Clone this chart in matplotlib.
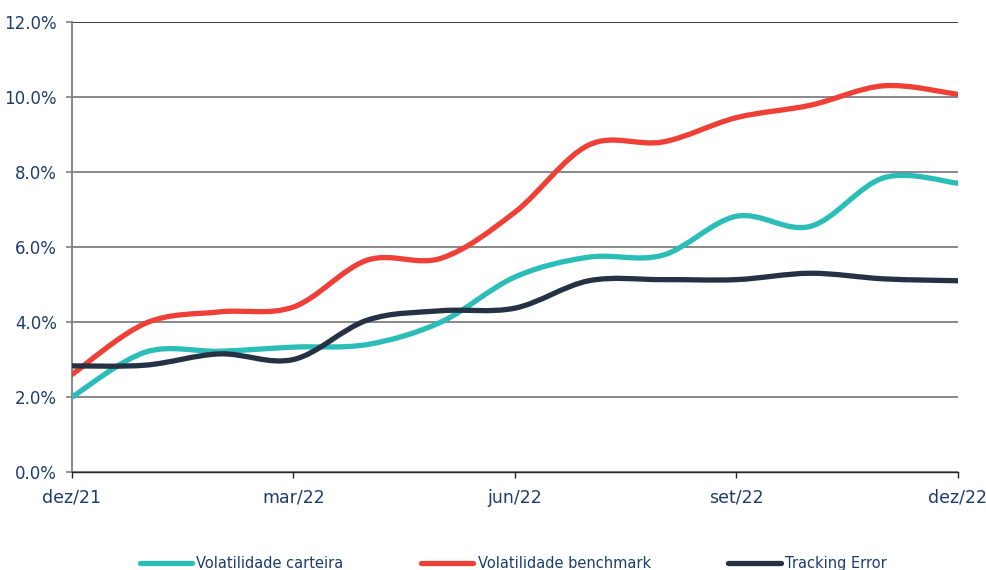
import numpy as np
import matplotlib
matplotlib.use("Agg")
import matplotlib.pyplot as plt
from matplotlib.path import Path
from matplotlib.patches import PathPatch
from matplotlib.lines import Line2D

# monthly values dez/21 .. dez/22 (in %)
months = ["dez/21", "jan/22", "fev/22", "mar/22", "abr/22", "mai/22", "jun/22",
          "jul/22", "ago/22", "set/22", "out/22", "nov/22", "dez/22"]
vol_carteira = [2.0, 3.2, 3.22, 3.33, 3.4, 4.0, 5.2, 5.73, 5.78, 6.82, 6.55, 7.85, 7.7]
vol_benchmark = [2.6, 3.97, 4.27, 4.4, 5.65, 5.7, 6.93, 8.72, 8.8, 9.45, 9.78, 10.3, 10.07]
tracking_error = [2.83, 2.85, 3.15, 3.0, 4.05, 4.3, 4.37, 5.1, 5.13, 5.13, 5.3, 5.15, 5.1]

tick_idx = [0, 3, 6, 9, 12]
tick_labels = [months[i] for i in tick_idx]

series = [
    ("Volatilidade carteira", vol_carteira, "#2BBDB8"),
    ("Volatilidade benchmark", vol_benchmark, "#EE4037"),
    ("Tracking Error", tracking_error, "#253245"),
]

TEXT = "#1D3C6E"


def smooth_path(x, y):
    # Excel-like smooth line: cubic bezier segments (Catmull-Rom control points)
    pts = np.column_stack([x, y]).astype(float)
    n = len(pts)
    verts = [pts[0]]
    codes = [Path.MOVETO]
    for i in range(n - 1):
        p0 = pts[max(i - 1, 0)]
        p1 = pts[i]
        p2 = pts[i + 1]
        p3 = pts[min(i + 2, n - 1)]
        c1 = p1 + (p2 - p0) / 6.0
        c2 = p2 - (p3 - p1) / 6.0
        verts += [c1, c2, p2]
        codes += [Path.CURVE4] * 3
    return Path(verts, codes)


fig = plt.figure(figsize=(9.87, 5.7), dpi=100)
ax = fig.add_axes([72 / 987, 1 - 472 / 570, (958 - 72) / 987, (472 - 22) / 570])

x = np.arange(len(months))
handles = []
for name, vals, col in series:
    patch = PathPatch(smooth_path(x, vals), facecolor="none", edgecolor=col,
                      lw=3.8, capstyle="round", joinstyle="round", zorder=3)
    ax.add_patch(patch)
    handles.append(Line2D([], [], color=col, lw=3.8, solid_capstyle="round", label=name))

ax.set_xlim(0, 12)
ax.set_ylim(0, 12)
ax.set_yticks(np.arange(0, 12.1, 2))
ax.set_yticklabels(["%.1f%%" % v for v in np.arange(0, 12.1, 2)])
ax.set_xticks(tick_idx)
ax.set_xticklabels(tick_labels)

ax.yaxis.grid(True, color="#7F7F7F", lw=1.3)
ax.axhline(12, color="#3A3A3A", lw=1.3, zorder=1)
ax.set_axisbelow(True)
for s in ["top", "right"]:
    ax.spines[s].set_visible(False)
ax.spines["left"].set_color("#7F7F7F")
ax.spines["left"].set_linewidth(1.3)
ax.spines["bottom"].set_color("#262626")
ax.spines["bottom"].set_linewidth(1.0)

ax.tick_params(axis="y", length=4, width=1.2, color="#7F7F7F", pad=7,
               labelsize=12, labelcolor=TEXT)
ax.tick_params(axis="x", length=4, width=1.0, color="#262626", pad=8,
               labelsize=12.5, labelcolor=TEXT)

fig.legend(handles=handles, loc="center", bbox_to_anchor=(0.52, 0.012),
           ncol=3, frameon=False, fontsize=10.5, labelcolor=TEXT,
           handlelength=3.6, handletextpad=0.3, columnspacing=5.3)

fig.savefig("out.png", dpi=100)
